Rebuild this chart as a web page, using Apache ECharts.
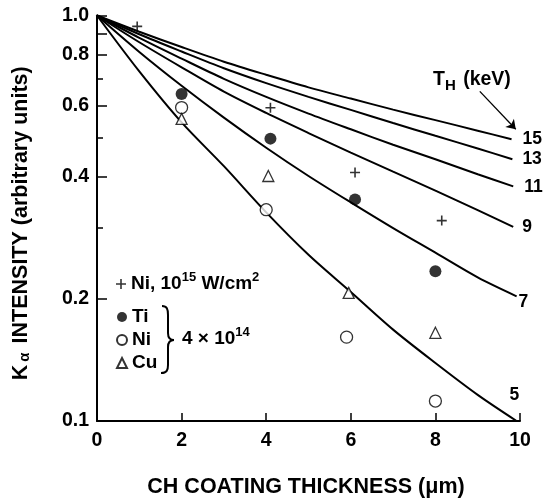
<!DOCTYPE html>
<html>
<head>
<meta charset="utf-8">
<script src="https://cdn.jsdelivr.net/npm/echarts@6/dist/echarts.min.js"></script>
<style>
  html, body { margin: 0; padding: 0; background: #fff; }
  #chart { width: 545px; height: 503px; }
</style>
</head>
<body>
<div id="chart"></div>
<script>
// Calculated K-alpha intensity vs. CH coating thickness for hot-electron temperatures T_H
const curveGridX = [0, 1, 2, 3, 4, 5, 6, 7, 8, 9];
const curveTemps = [15, 13, 11, 9, 7, 5];
const curveEndX = [9.8, 9.82, 9.84, 9.84, 9.92, 9.92];
const curveT15 = [1, 0.912, 0.836, 0.769, 0.714, 0.665, 0.624, 0.586, 0.552, 0.520, 0.495];
const curveT13 = [1, 0.899, 0.815, 0.741, 0.681, 0.630, 0.585, 0.543, 0.505, 0.470, 0.442];
const curveT11 = [1, 0.881, 0.783, 0.698, 0.630, 0.573, 0.524, 0.480, 0.442, 0.406, 0.379];
const curveT9  = [1, 0.859, 0.745, 0.649, 0.575, 0.513, 0.459, 0.412, 0.370, 0.331, 0.301];
const curveT7  = [1, 0.813, 0.671, 0.560, 0.472, 0.402, 0.346, 0.299, 0.260, 0.226, 0.203];
const curveT5  = [1, 0.728, 0.545, 0.425, 0.327, 0.257, 0.208, 0.168, 0.139, 0.116, 0.100];

// Measured points
const niHighX = [0.95, 4.1, 6.1, 8.15];
const niHighY = [0.94, 0.592, 0.41, 0.312];
const tiX = [2, 4.1, 6.1, 8];
const tiY = [0.64, 0.497, 0.352, 0.234];
const niLowX = [2, 4, 5.9, 8];
const niLowY = [0.593, 0.332, 0.161, 0.112];
const cuX = [2, 4.05, 5.95, 8];
const cuY = [0.556, 0.402, 0.207, 0.165];

// Axis ticks
const yLabelValues = [0.1, 0.2, 0.4, 0.6, 0.8, 1.0];
const yLongTicks = [0.1, 0.2, 0.4, 0.6, 0.8, 0.9, 1.0];
const yShortTicks = [0.3, 0.5, 0.7];

const FONT = '"Liberation Sans", Arial, Helvetica, sans-serif';
const curveValues = [curveT15, curveT13, curveT11, curveT9, curveT7, curveT5];
const endLabelLayout = [
  { distance: 11, offset: [0, 0] },
  { distance: 10, offset: [0, 0] },
  { distance: 11, offset: [0, 1] },
  { distance: 9, offset: [0, 0] },
  { distance: 2, offset: [0, 6] },
  { distance: 5, offset: [-12, -26] }
];

const pairs = (xs, ys) => xs.map((x, i) => [x, ys[i]]);

const curveSeries = curveTemps.map((t, k) => {
  const xs = curveGridX.concat([curveEndX[k]]);
  const s = {
    name: 'T' + t,
    type: 'line',
    data: pairs(xs, curveValues[k]),
    symbol: 'none',
    smooth: 0.3,
    clip: false,
    z: 2,
    lineStyle: { color: '#000', width: 2 },
    endLabel: {
      show: true,
      formatter: String(t),
      color: '#000',
      fontFamily: FONT,
      fontWeight: 'bold',
      fontSize: 17.5,
      distance: endLabelLayout[k].distance,
      offset: endLabelLayout[k].offset
    }
  };
  if (t === 15) {
    s.markLine = {
      silent: true,
      symbol: ['none', 'arrow'],
      symbolSize: 9,
      lineStyle: { color: '#000', width: 1.3, type: 'solid' },
      label: { show: false },
      data: [[{ coord: [9.05, 0.65] }, { coord: [9.9, 0.524] }]]
    };
  }
  return s;
});

const plusPath = 'path://M4.2,0H5.8V4.2H10V5.8H5.8V10H4.2V5.8H0V4.2H4.2Z';

const pointSeries = [
  { name: 'NiHigh', x: niHighX, y: niHighY, symbol: plusPath, size: 10,
    style: { color: '#000' } },
  { name: 'Ti', x: tiX, y: tiY, symbol: 'circle', size: 12,
    style: { color: '#000' } },
  { name: 'NiLow', x: niLowX, y: niLowY, symbol: 'circle', size: 12,
    style: { color: '#fff', borderColor: '#000', borderWidth: 1.3 } },
  { name: 'Cu', x: cuX, y: cuY, symbol: 'triangle', size: 11,
    style: { color: '#fff', borderColor: '#000', borderWidth: 1.3 } }
].map(p => ({
  name: p.name,
  type: 'scatter',
  data: pairs(p.x, p.y),
  symbol: p.symbol,
  symbolSize: p.size,
  itemStyle: p.style,
  z: 5
}));

const legendNames = {
  NiHigh: '{t|Ni, 10}{sup|15}{t| W/cm}{sup|2}',
  Ti: '{t|Ti}',
  NiLow: '{t|Ni}',
  Cu: '{t|Cu}'
};

const richText = {
  t: { fontFamily: FONT, fontWeight: 'bold', fontSize: 19, color: '#000', lineHeight: 26 },
  sup: { fontFamily: FONT, fontWeight: 'bold', fontSize: 13, color: '#000', lineHeight: 9, verticalAlign: 'top' }
};

// Curly brace grouping the three 4x10^14 entries
const braceStroke = { stroke: '#000', lineWidth: 2, fill: null };
const braceParts = [
  { type: 'bezierCurve', shape: { x1: 162, y1: 306, cpx1: 167, cpy1: 306, cpx2: 168, cpy2: 309, x2: 168, y2: 315 } },
  { type: 'line', shape: { x1: 168, y1: 315, x2: 168, y2: 333 } },
  { type: 'bezierCurve', shape: { x1: 168, y1: 333, cpx1: 168, cpy1: 338, cpx2: 170, cpy2: 340, x2: 174, y2: 340 } },
  { type: 'bezierCurve', shape: { x1: 174, y1: 340, cpx1: 170, cpy1: 340, cpx2: 168, cpy2: 342, x2: 168, y2: 347 } },
  { type: 'line', shape: { x1: 168, y1: 347, x2: 168, y2: 365 } },
  { type: 'bezierCurve', shape: { x1: 168, y1: 365, cpx1: 168, cpy1: 370, cpx2: 167, cpy2: 373, x2: 161, y2: 373 } }
].map(p => Object.assign(p, { style: braceStroke, silent: true }));

const chart = echarts.init(document.getElementById('chart'), null, { renderer: 'canvas' });

chart.setOption({
  animation: false,
  backgroundColor: '#fff',
  textStyle: { fontFamily: FONT },
  grid: { left: 97, right: 25, top: 15.5, bottom: 80, containLabel: false },
  xAxis: {
    type: 'value',
    min: 0,
    max: 10,
    interval: 2,
    name: 'CH COATING THICKNESS (\u03bcm)',
    nameLocation: 'middle',
    nameGap: 55,
    nameTextStyle: { fontFamily: FONT, fontWeight: 'bold', fontSize: 21.5, color: '#000', padding: [0, 5, 0, 0] },
    axisLine: { lineStyle: { color: '#000', width: 2 } },
    axisTick: { inside: true, length: 8, lineStyle: { color: '#000', width: 1.5 } },
    axisLabel: { color: '#000', fontFamily: FONT, fontWeight: 'bold', fontSize: 19.5, margin: 10 },
    splitLine: { show: false }
  },
  yAxis: [
    {
      type: 'log',
      logBase: 10,
      min: 0.1,
      max: 1,
      name: 'K{a|\u03b1} INTENSITY (arbitrary units)',
      nameLocation: 'middle',
      nameGap: 65,
      nameRotate: 90,
      nameTextStyle: {
        fontFamily: FONT, fontWeight: 'bold', fontSize: 21.5, color: '#000', padding: [0, 10, 0, 0],
        rich: { a: { fontFamily: FONT, fontSize: 15, color: '#000', lineHeight: 8, verticalAlign: 'bottom', padding: [0, 3, 0, 3] } }
      },
      axisLine: { lineStyle: { color: '#000', width: 2 } },
      axisTick: { inside: true, length: 10, lineStyle: { color: '#000', width: 1.5 }, customValues: yLongTicks },
      axisLabel: {
        customValues: yLabelValues,
        formatter: v => Number(v).toFixed(1),
        color: '#000', fontFamily: FONT, fontWeight: 'bold', fontSize: 19.5, margin: 8
      },
      splitLine: { show: false },
      minorTick: { show: false }
    },
    {
      type: 'log',
      logBase: 10,
      min: 0.1,
      max: 1,
      position: 'left',
      axisLine: { show: false },
      axisTick: { inside: true, length: 6, lineStyle: { color: '#000', width: 1.5 }, customValues: yShortTicks },
      axisLabel: { show: false },
      splitLine: { show: false }
    }
  ],
  legend: [
    {
      data: ['NiHigh'],
      left: 116,
      top: 271,
      padding: 0,
      itemWidth: 10,
      itemHeight: 10,
      itemGap: 7,
      selectedMode: false,
      formatter: n => legendNames[n],
      textStyle: { rich: richText }
    },
    {
      data: ['Ti', 'NiLow', 'Cu'],
      orient: 'vertical',
      left: 116,
      top: 307.5,
      padding: 0,
      itemWidth: 10,
      itemHeight: 10,
      itemGap: 4,
      selectedMode: false,
      formatter: n => legendNames[n],
      textStyle: { rich: { t: Object.assign({}, richText.t, { lineHeight: 19 }) } }
    }
  ],
  graphic: braceParts.concat([
    {
      type: 'text',
      x: 182,
      y: 339,
      style: {
        text: '{t|4 \u00d7 10}{sup|14}',
        verticalAlign: 'middle',
        align: 'left',
        rich: richText
      }
    },
    {
      type: 'text',
      x: 433,
      y: 80,
      style: {
        text: '{t|T}{s|H}{t| (keV)}',
        verticalAlign: 'middle',
        align: 'left',
        rich: {
          t: { fontFamily: FONT, fontWeight: 'bold', fontSize: 19.5, color: '#000', lineHeight: 26 },
          s: { fontFamily: FONT, fontWeight: 'bold', fontSize: 15, color: '#000', lineHeight: 8, verticalAlign: 'bottom', padding: [0, 2, 0, 0] }
        }
      }
    }
  ]),
  series: curveSeries.concat(pointSeries)
});
</script>
</body>
</html>
